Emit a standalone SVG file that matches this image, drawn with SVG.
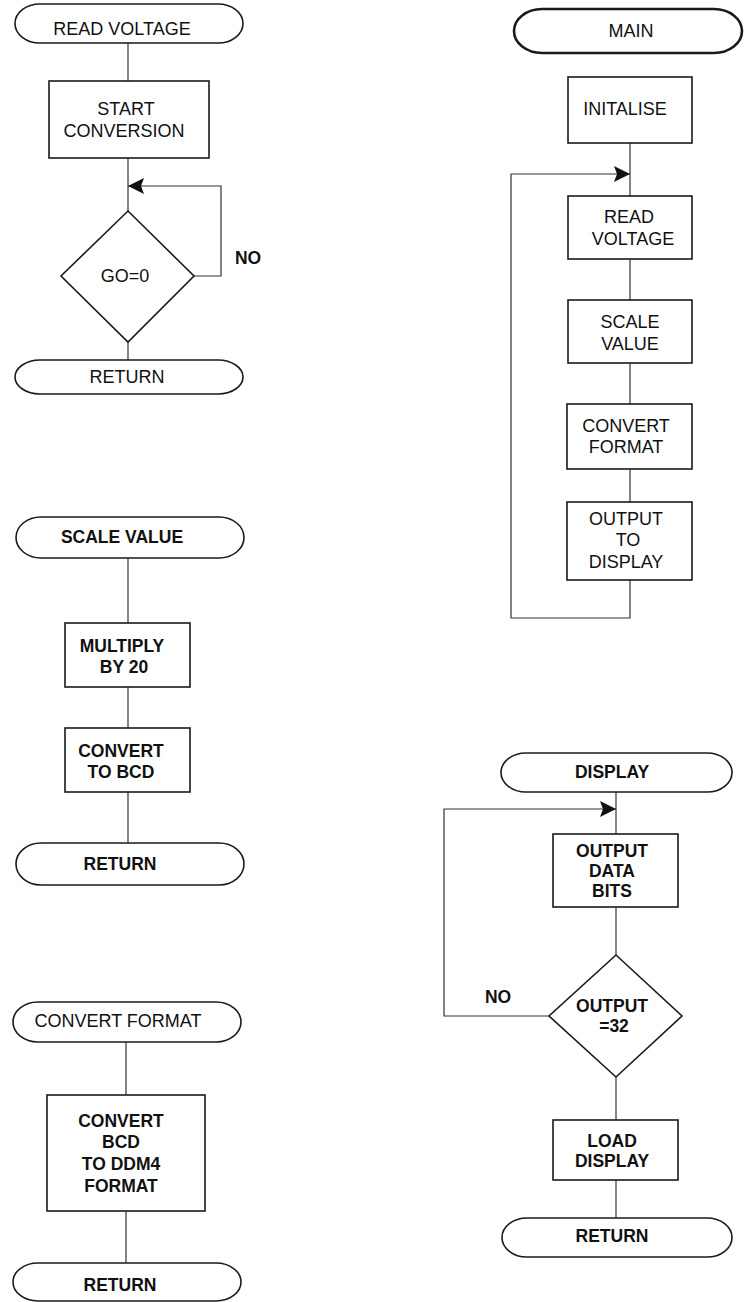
<svg xmlns="http://www.w3.org/2000/svg" width="744" height="1302" viewBox="0 0 744 1302">
<style>
.bg{fill:#ffffff}
.shape{fill:#ffffff;stroke:#1a1a1a;stroke-width:1.6}
.thick{stroke-width:2.6}
.line{fill:none;stroke:#333333;stroke-width:1.2}
.t{font-family:"Liberation Sans",Arial,sans-serif;font-size:18px;fill:#111111;text-anchor:middle}
.b{font-weight:bold;font-size:17.5px}
</style>
<defs>
<marker id="arr" viewBox="0 0 16 16" refX="16" refY="8" markerWidth="16" markerHeight="16" markerUnits="userSpaceOnUse" orient="auto">
<path d="M0,0 L16,8 L0,16 L3,8 Z" fill="#111111"/>
</marker>
</defs>
<rect class="bg" x="0" y="0" width="744" height="1302"/>

<g id="connectors">
<!-- READ VOLTAGE -->
<line class="line" x1="128" y1="43" x2="128" y2="81"/>
<line class="line" x1="128" y1="158" x2="128" y2="211"/>
<line class="line" x1="128" y1="342" x2="128" y2="360"/>
<polyline class="line" points="194,276 221,276 221,186 128,186" marker-end="url(#arr)"/>
<!-- MAIN -->
<line class="line" x1="630" y1="143" x2="630" y2="196"/>
<line class="line" x1="630" y1="259" x2="630" y2="300"/>
<line class="line" x1="630" y1="363" x2="630" y2="404"/>
<line class="line" x1="630" y1="469" x2="630" y2="502"/>
<polyline class="line" points="630,580 630,618 511,618 511,174 630,174" marker-end="url(#arr)"/>
<!-- SCALE VALUE -->
<line class="line" x1="128" y1="558" x2="128" y2="623"/>
<line class="line" x1="128" y1="687" x2="128" y2="728"/>
<line class="line" x1="128" y1="792" x2="128" y2="843"/>
<!-- CONVERT FORMAT -->
<line class="line" x1="126" y1="1042" x2="126" y2="1095"/>
<line class="line" x1="126" y1="1211" x2="126" y2="1263"/>
<!-- DISPLAY -->
<line class="line" x1="616" y1="792" x2="616" y2="834"/>
<line class="line" x1="616" y1="907" x2="616" y2="955"/>
<line class="line" x1="616" y1="1077" x2="616" y2="1120"/>
<line class="line" x1="616" y1="1180" x2="616" y2="1218"/>
<polyline class="line" points="549,1016 444,1016 444,809 616,809" marker-end="url(#arr)"/>
</g>

<!-- READ VOLTAGE subroutine -->
<g id="rv-start">
<rect class="shape" x="15" y="4" width="228" height="39" rx="25" ry="19.5"/>
<text class="t" x="122" y="35">READ VOLTAGE</text>
</g>
<g id="rv-conv">
<rect class="shape" x="49" y="81" width="160" height="77"/>
<text class="t" x="126" y="115">START</text>
<text class="t" x="124" y="137">CONVERSION</text>
</g>
<g id="rv-go">
<polygon class="shape" points="128,211 194,276 128,342 61,276"/>
<text class="t" x="125" y="282">GO=0</text>
</g>
<g id="rv-no">
<text class="t b" x="248" y="264">NO</text>
</g>
<g id="rv-return">
<rect class="shape" x="15" y="360" width="228" height="34" rx="25" ry="17"/>
<text class="t" x="127" y="383">RETURN</text>
</g>

<!-- MAIN -->
<g id="main-start">
<rect class="shape thick" x="514" y="9" width="228" height="44" rx="28" ry="22"/>
<text class="t" x="631" y="37">MAIN</text>
</g>
<g id="main-init">
<rect class="shape" x="568" y="77" width="124" height="66"/>
<text class="t" x="625" y="115">INITALISE</text>
</g>
<g id="main-read">
<rect class="shape" x="568" y="196" width="124" height="63"/>
<text class="t" x="629" y="223">READ</text>
<text class="t" x="633" y="245">VOLTAGE</text>
</g>
<g id="main-scale">
<rect class="shape" x="568" y="300" width="124" height="63"/>
<text class="t" x="630" y="328">SCALE</text>
<text class="t" x="630" y="350">VALUE</text>
</g>
<g id="main-convert">
<rect class="shape" x="567" y="404" width="125" height="65"/>
<text class="t" x="626" y="432">CONVERT</text>
<text class="t" x="626" y="453">FORMAT</text>
</g>
<g id="main-output">
<rect class="shape" x="567" y="502" width="125" height="78"/>
<text class="t" x="626" y="525">OUTPUT</text>
<text class="t" x="628" y="546">TO</text>
<text class="t" x="626" y="568">DISPLAY</text>
</g>

<!-- SCALE VALUE subroutine -->
<g id="sv-start">
<rect class="shape" x="16" y="517" width="228" height="41" rx="25" ry="20.5"/>
<text class="t b" x="122" y="543">SCALE VALUE</text>
</g>
<g id="sv-mult">
<rect class="shape" x="65" y="623" width="125" height="64"/>
<text class="t b" x="122" y="652">MULTIPLY</text>
<text class="t b" x="124" y="673">BY 20</text>
</g>
<g id="sv-bcd">
<rect class="shape" x="65" y="728" width="125" height="64"/>
<text class="t b" x="121" y="757">CONVERT</text>
<text class="t b" x="121" y="778">TO BCD</text>
</g>
<g id="sv-return">
<rect class="shape" x="16" y="843" width="228" height="42" rx="25" ry="21"/>
<text class="t b" x="120" y="870">RETURN</text>
</g>

<!-- CONVERT FORMAT subroutine -->
<g id="cf-start">
<rect class="shape" x="13" y="1002" width="228" height="40" rx="25" ry="20"/>
<text class="t" x="118" y="1027">CONVERT FORMAT</text>
</g>
<g id="cf-box">
<rect class="shape" x="47" y="1095" width="158" height="116"/>
<text class="t b" x="121" y="1127">CONVERT</text>
<text class="t b" x="121" y="1148">BCD</text>
<text class="t b" x="121" y="1170">TO DDM4</text>
<text class="t b" x="121" y="1192">FORMAT</text>
</g>
<g id="cf-return">
<rect class="shape" x="13" y="1263" width="228" height="38" rx="25" ry="19"/>
<text class="t b" x="120" y="1291">RETURN</text>
</g>

<!-- DISPLAY subroutine -->
<g id="d-start">
<rect class="shape" x="501" y="753" width="231" height="39" rx="25" ry="19.5"/>
<text class="t b" x="612" y="778">DISPLAY</text>
</g>
<g id="d-bits">
<rect class="shape" x="553" y="834" width="125" height="73"/>
<text class="t b" x="612" y="857">OUTPUT</text>
<text class="t b" x="612" y="877">DATA</text>
<text class="t b" x="612" y="897">BITS</text>
</g>
<g id="d-test">
<polygon class="shape" points="616,955 682,1016 616,1077 549,1016"/>
<text class="t b" x="612" y="1012">OUTPUT</text>
<text class="t b" x="614" y="1032">=32</text>
</g>
<g id="d-no">
<text class="t b" x="498" y="1003">NO</text>
</g>
<g id="d-load">
<rect class="shape" x="553" y="1120" width="125" height="60"/>
<text class="t b" x="612" y="1147">LOAD</text>
<text class="t b" x="612" y="1167">DISPLAY</text>
</g>
<g id="d-return">
<rect class="shape" x="502" y="1218" width="230" height="39" rx="25" ry="19.5"/>
<text class="t b" x="612" y="1242">RETURN</text>
</g>
</svg>
